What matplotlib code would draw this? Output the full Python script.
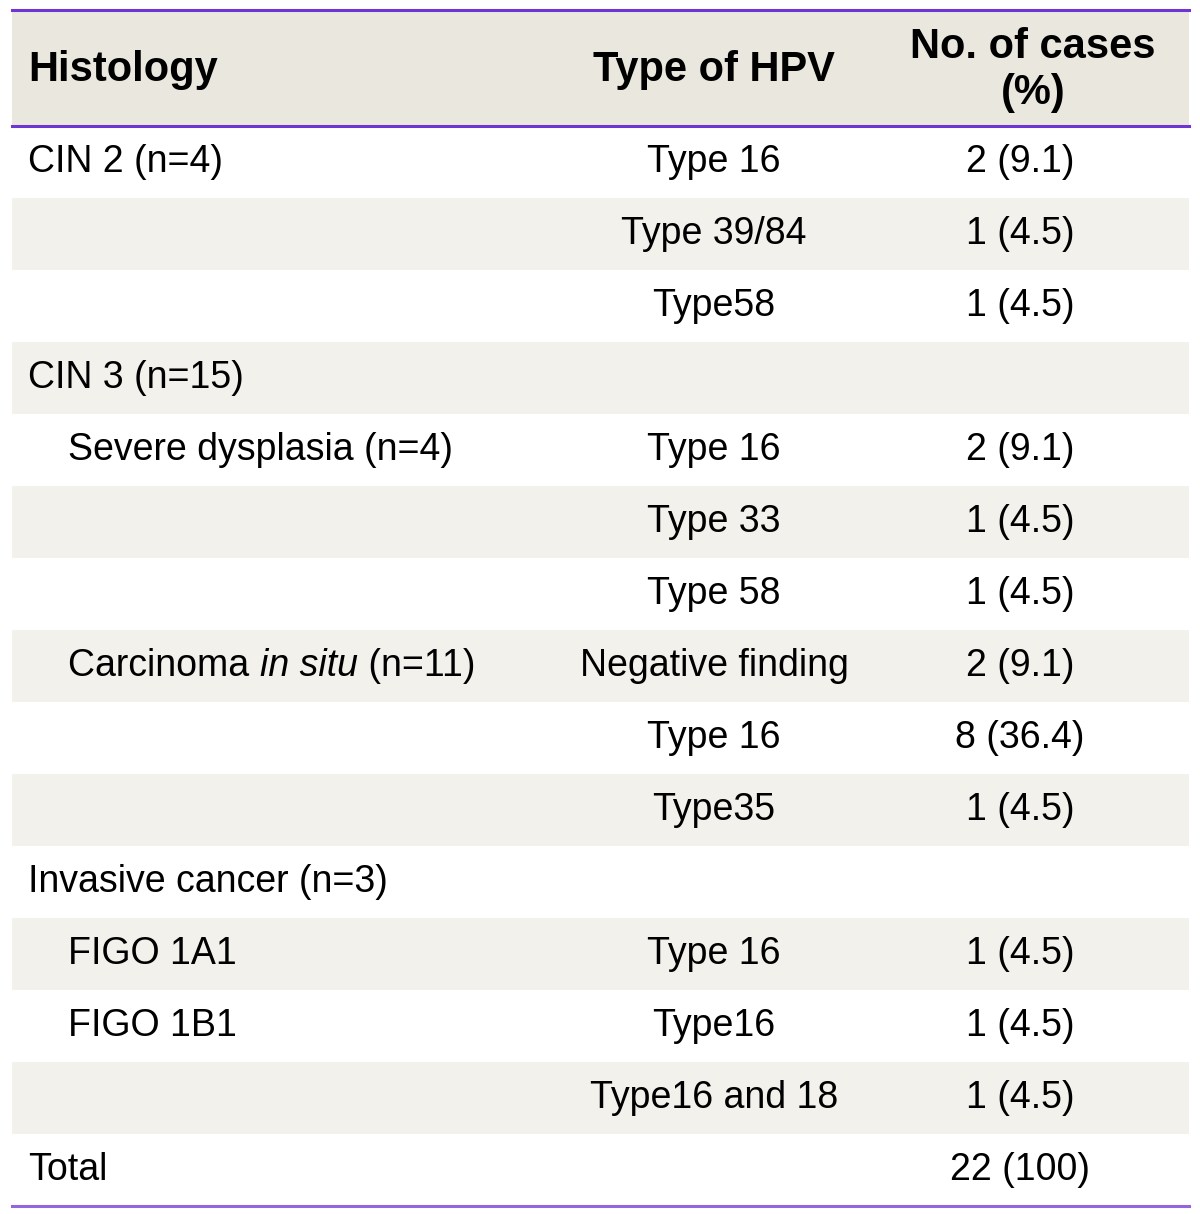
import matplotlib
matplotlib.use("Agg")
import matplotlib.pyplot as plt
from matplotlib import font_manager

# ---------------------------------------------------------------------------
# Table content
# ---------------------------------------------------------------------------
headers = ["Histology", "Type of HPV", "No. of cases\n(%)"]

histology = [
    "CIN 2 (n=4)", "", "",
    "CIN 3 (n=15)",
    "Severe dysplasia (n=4)", "", "",
    "Carcinoma |in situ| (n=11)", "", "",
    "Invasive cancer (n=3)",
    "FIGO 1A1", "FIGO 1B1", "",
    "Total",
]
indent = [0, 0, 0, 0, 1, 0, 0, 1, 0, 0, 0, 1, 1, 0, 0]
hpv_type = [
    "Type 16", "Type 39/84", "Type58",
    "",
    "Type 16", "Type 33", "Type 58",
    "Negative finding", "Type 16", "Type35",
    "",
    "Type 16", "Type16", "Type16 and 18",
    "",
]
cases = [
    "2 (9.1)", "1 (4.5)", "1 (4.5)",
    "",
    "2 (9.1)", "1 (4.5)", "1 (4.5)",
    "2 (9.1)", "8 (36.4)", "1 (4.5)",
    "",
    "1 (4.5)", "1 (4.5)", "1 (4.5)",
    "22 (100)",
]

# ---------------------------------------------------------------------------
# Style
# ---------------------------------------------------------------------------
avail = {f.name for f in font_manager.fontManager.ttflist}
FAMILY = ["Liberation Sans Narrow", "Liberation Sans", "DejaVu Sans"]
FAMILY = [f for f in FAMILY if f in avail] or ["DejaVu Sans"]

HEADER_BG = "#EAE7DF"
STRIPE_BG = "#F3F1EC"
LINE_TOP = "#6E35D2"
LINE_BOT = "#9466DE"
FS = 27
FS_HEAD = 30
W, H = 1200, 1214

fig = plt.figure(figsize=(W / 100, H / 100), dpi=100)
ax = fig.add_axes([0, 0, 1, 1])
ax.set_xlim(0, W)
ax.set_ylim(H, 0)
ax.axis("off")

left, right = 12, 1189
top, head_h, row_h = 10, 116, 72
x_hist, x_ind = 28, 68
x_hpv, x_cases, x_cases_head = 714, 1020, 1033

# header block
ax.add_patch(plt.Rectangle((left, top), right - left, head_h,
                           color=HEADER_BG, lw=0))
hy = top + head_h / 2 + 2
ax.text(x_hist, hy, headers[0], fontsize=FS_HEAD, fontweight="bold",
        family=FAMILY, ha="left", va="center")
ax.text(x_hpv, hy, headers[1], fontsize=FS_HEAD, fontweight="bold",
        family=FAMILY, ha="center", va="center")
ax.text(x_cases_head, hy, headers[2], fontsize=FS_HEAD, fontweight="bold",
        family=FAMILY, ha="center", va="center", linespacing=1.2)

fig.canvas.draw()
renderer = fig.canvas.get_renderer()


def draw_mixed(x, y, s):
    """Draw text where |...| segments are italic."""
    parts = s.split("|")
    for i, part in enumerate(parts):
        if not part:
            continue
        t = ax.text(x, y, part, fontsize=FS, family=FAMILY,
                    style="italic" if i % 2 else "normal",
                    ha="left", va="center")
        bb = t.get_window_extent(renderer=renderer)
        x += bb.width  # 1 px per data unit


y0 = top + head_h
for i in range(len(histology)):
    ry = y0 + i * row_h
    if i % 2 == 1:
        ax.add_patch(plt.Rectangle((left, ry), right - left, row_h,
                                   color=STRIPE_BG, lw=0))
    cy = ry + row_h / 2
    if histology[i]:
        draw_mixed(x_ind if indent[i] else x_hist, cy, histology[i])
    if hpv_type[i]:
        ax.text(x_hpv, cy, hpv_type[i], fontsize=FS, family=FAMILY,
                ha="center", va="center")
    if cases[i]:
        ax.text(x_cases, cy, cases[i], fontsize=FS, family=FAMILY,
                ha="center", va="center")

bottom = y0 + len(histology) * row_h
ax.plot([left, right], [top, top], color=LINE_TOP, lw=2.2)
ax.plot([left, right], [y0, y0], color=LINE_TOP, lw=2.2)
ax.plot([left, right], [bottom, bottom], color=LINE_BOT, lw=2.2)

fig.savefig("out.png", dpi=100)
